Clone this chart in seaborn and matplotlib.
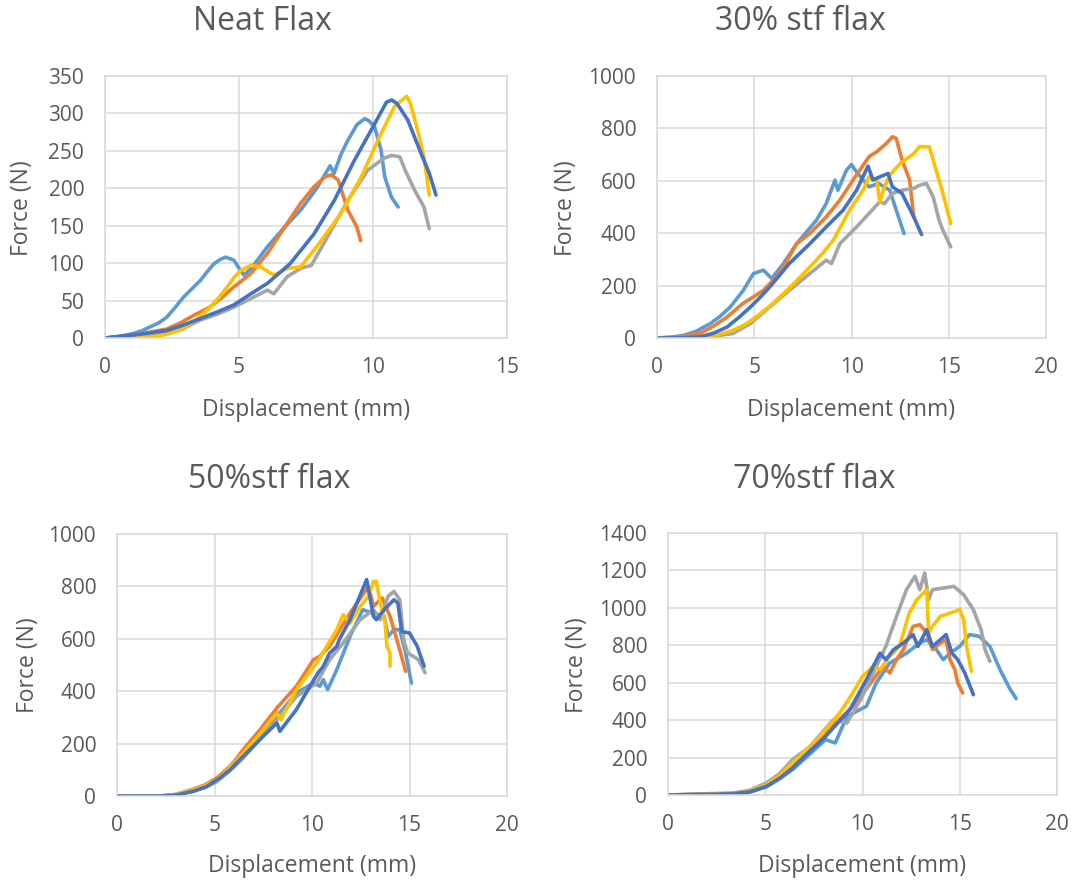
import matplotlib
matplotlib.use("Agg")
import matplotlib.pyplot as plt
import numpy as np
import pandas as pd
import seaborn as sns

# ---------------------------------------------------------------------------
# Force-displacement curves, five specimens per material
# ---------------------------------------------------------------------------
specimens = ["S1", "S2", "S3", "S4", "S5"]
series_colors = ["#5B9BD5", "#ED7D31", "#A5A5A5", "#FFC000", "#4472C4"]

panel_titles = ["Neat Flax", "30% stf flax", "50%stf flax", "70%stf flax"]
x_label = "Displacement (mm)"
y_label = "Force (N)"

# Neat flax
neat_s1_disp = [0, 0.5, 1.06, 1.4, 1.69, 2.0, 2.31, 2.6, 2.94, 3.25, 3.56, 3.8, 4.06, 4.3, 4.5, 4.81, 5.06, 5.19, 5.5, 6.06, 6.7, 7.3, 7.9, 8.4, 8.55, 8.8, 9.06, 9.4, 9.69, 9.85, 10.06, 10.3, 10.44, 10.69, 10.94]
neat_s1_force = [0, 2, 6, 10, 15, 20, 28, 40, 55, 66, 77, 88, 99, 105, 108, 104, 90, 84, 95, 122, 148, 171, 200, 230, 220, 245, 264, 285, 293, 290, 282, 251, 215, 188, 175]
neat_s2_disp = [0, 0.5, 1.06, 1.7, 2.3, 2.8, 3.3, 3.9, 4.4, 4.8, 5.44, 6.06, 6.7, 7.3, 7.8, 8.2, 8.44, 8.7, 9.06, 9.4, 9.54]
neat_s2_force = [0, 1, 4, 8, 12, 20, 30, 41, 55, 68, 86, 113, 148, 180, 202, 215, 218, 211, 171, 148, 130]
neat_s3_disp = [0, 1.0, 2.3, 3.0, 3.56, 4.2, 4.8, 5.4, 6.06, 6.3, 6.8, 7.3, 7.7, 8.3, 9.06, 9.8, 10.4, 10.7, 11.0, 11.2, 11.56, 11.9, 12.1]
neat_s3_force = [0, 2, 6, 14, 24, 32, 41, 52, 64, 59, 82, 93, 97, 135, 184, 224, 240, 244, 242, 224, 197, 175, 146]
neat_s4_disp = [0, 1.0, 1.7, 2.3, 2.9, 3.4, 3.8, 4.2, 4.56, 4.8, 5.06, 5.44, 5.8, 6.3, 6.8, 7.3, 7.9, 8.8, 9.56, 10.3, 10.8, 11.25, 11.4, 11.7, 11.9, 12.1]
neat_s4_force = [0, 0, 1, 5, 12, 24, 37, 52, 68, 80, 90, 97, 95, 84, 93, 95, 122, 166, 215, 273, 309, 323, 313, 273, 242, 191]
neat_s5_disp = [0, 0.5, 1.06, 1.7, 2.3, 2.9, 3.56, 4.2, 4.8, 5.44, 6.06, 6.9, 7.8, 8.56, 9.3, 10.06, 10.5, 10.7, 10.9, 11.3, 11.8, 12.1, 12.35]
neat_s5_force = [0, 2, 4, 7, 10, 17, 26, 35, 44, 59, 73, 99, 139, 184, 237, 286, 315, 318, 313, 291, 246, 220, 191]

# 30 % stf flax
f30_s1_disp = [0, 0.7, 1.37, 2.0, 2.74, 3.2, 3.76, 4.1, 4.44, 4.7, 4.96, 5.47, 5.9, 6.5, 7.18, 8.2, 8.7, 9.15, 9.3, 9.74, 10.0, 10.2, 10.6, 10.9, 11.4, 11.97, 12.3, 12.7]
f30_s1_force = [0, 3, 10, 25, 55, 80, 118, 150, 182, 215, 246, 259, 227, 284, 360, 450, 513, 603, 564, 641, 662, 640, 603, 577, 590, 564, 488, 399]
f30_s2_disp = [0, 1.2, 2.2, 2.9, 3.6, 4.0, 4.4, 4.96, 5.47, 6.3, 7.18, 7.86, 8.7, 9.4, 10.08, 10.9, 11.3, 11.8, 12.1, 12.3, 12.6, 12.99, 13.2]
f30_s2_force = [0, 4, 17, 45, 80, 105, 131, 157, 182, 246, 360, 399, 462, 526, 603, 692, 711, 743, 768, 762, 679, 603, 462]
f30_s3_disp = [0, 2.0, 3.0, 3.9, 4.8, 5.6, 6.8, 7.86, 8.7, 8.97, 9.4, 10.26, 10.9, 11.45, 11.7, 12.1, 12.6, 13.2, 13.5, 13.85, 14.2, 14.5, 14.7, 15.1]
f30_s3_force = [0, 3, 8, 17, 55, 106, 182, 246, 297, 284, 360, 424, 475, 520, 513, 552, 564, 571, 583, 590, 539, 450, 411, 348]
f30_s4_disp = [0, 2.2, 3.1, 3.9, 4.5, 5.1, 5.8, 6.5, 7.2, 7.86, 8.5, 9.06, 9.9, 10.6, 10.9, 11.3, 11.45, 11.7, 11.97, 12.5, 13.2, 13.5, 14.0, 14.3, 14.7, 15.1]
f30_s4_force = [0, 1, 12, 29, 50, 80, 122, 169, 220, 271, 322, 373, 488, 564, 615, 603, 520, 577, 622, 666, 704, 730, 730, 653, 552, 437]
f30_s5_disp = [0, 1.2, 2.2, 2.9, 3.6, 4.2, 4.8, 5.3, 5.8, 6.8, 7.86, 8.7, 9.57, 10.26, 10.85, 11.1, 11.45, 11.88, 12.1, 12.6, 13.2, 13.6]
f30_s5_force = [0, 1, 4, 18, 42, 78, 118, 155, 195, 284, 360, 424, 488, 564, 656, 603, 615, 628, 577, 552, 462, 395]

# 50 % stf flax
f50_s1_disp = [0, 2.2, 3.0, 3.9, 4.5, 5.1, 5.6, 6.0, 6.47, 7.3, 8.2, 9.2, 10.07, 10.4, 10.58, 10.8, 11.27, 11.95, 12.6, 13.15, 13.7, 13.9, 14.2, 14.5, 14.8, 15.1]
f50_s1_force = [0, 0, 4, 20, 34, 58, 88, 114, 151, 222, 304, 393, 431, 419, 444, 406, 482, 609, 711, 698, 686, 609, 635, 635, 546, 431]
f50_s2_disp = [0, 2.2, 3.0, 3.9, 4.5, 5.1, 5.6, 6.0, 6.47, 7.3, 8.2, 9.2, 10.07, 10.4, 10.9, 11.95, 12.9, 13.15, 13.6, 14.0, 14.5, 14.8]
f50_s2_force = [0, 0, 6, 26, 42, 68, 100, 130, 177, 250, 336, 419, 520, 533, 571, 698, 800, 724, 756, 686, 558, 476]
f50_s3_disp = [0, 2.2, 3.0, 3.9, 4.5, 5.1, 5.6, 6.0, 6.47, 7.3, 8.2, 9.2, 10.24, 10.9, 11.6, 12.47, 13.15, 13.5, 13.9, 14.2, 14.5, 14.7, 14.9, 15.2, 15.46, 15.8]
f50_s3_force = [0, 0, 4, 18, 32, 54, 84, 110, 145, 215, 291, 380, 431, 520, 584, 673, 711, 673, 762, 781, 749, 597, 546, 533, 520, 470]
f50_s4_disp = [0, 2.2, 3.0, 3.9, 4.5, 5.1, 5.6, 6.0, 6.47, 7.3, 8.2, 8.4, 9.2, 10.24, 11.27, 11.6, 11.95, 12.47, 12.9, 13.15, 13.3, 13.5, 13.75, 13.84, 14.0, 14.0]
f50_s4_force = [0, 0, 5, 24, 38, 62, 94, 124, 164, 235, 317, 291, 406, 508, 635, 692, 660, 724, 762, 819, 819, 737, 660, 571, 546, 495]
f50_s5_disp = [0, 2.2, 3.0, 3.9, 4.6, 5.27, 5.8, 6.1, 6.47, 7.5, 8.2, 8.35, 9.2, 9.9, 10.3, 10.58, 10.9, 11.27, 11.4, 11.95, 12.8, 13.15, 13.3, 13.7, 14.2, 14.4, 14.6, 15.0, 15.4, 15.75]
f50_s5_force = [0, 0, 3, 18, 36, 69, 100, 124, 151, 228, 279, 247, 330, 419, 469, 495, 545, 571, 597, 673, 826, 686, 673, 711, 749, 737, 628, 622, 571, 495]

# 70 % stf flax
f70_s1_disp = [0, 3.3, 4.2, 5.06, 5.75, 6.4, 7.2, 8.1, 8.6, 9.2, 9.86, 10.2, 10.7, 11.4, 12.26, 12.95, 13.3, 13.8, 14.15, 14.5, 15.0, 15.5, 16.0, 16.55, 17.07, 17.6, 17.9]
f70_s1_force = [0, 6, 16, 44, 88, 135, 210, 296, 278, 420, 456, 474, 598, 705, 758, 812, 830, 777, 723, 758, 794, 857, 848, 794, 670, 563, 515]
f70_s2_disp = [0, 3.3, 4.2, 5.06, 5.75, 6.4, 7.2, 8.1, 9.5, 10.55, 11.06, 11.4, 11.75, 12.1, 12.6, 12.95, 13.3, 13.6, 14.0, 14.3, 14.5, 14.75, 14.9, 15.15]
f70_s2_force = [0, 7, 18, 50, 95, 153, 235, 331, 474, 616, 687, 652, 723, 777, 901, 910, 866, 777, 812, 830, 723, 670, 598, 545]
f70_s3_disp = [0, 3.35, 4.2, 5.06, 5.75, 6.4, 7.0, 7.3, 8.5, 9.2, 9.9, 10.55, 11.2, 11.75, 12.26, 12.7, 12.95, 13.2, 13.4, 13.6, 14.15, 14.7, 15.2, 15.7, 16.1, 16.3, 16.55]
f70_s3_force = [0, 11, 25, 64, 115, 189, 235, 260, 402, 385, 509, 652, 794, 955, 1097, 1169, 1097, 1186, 1044, 1097, 1106, 1115, 1070, 990, 883, 777, 714]
f70_s4_disp = [0, 3.35, 4.2, 5.06, 5.75, 6.4, 7.1, 7.8, 8.83, 9.5, 10.0, 10.55, 10.9, 11.4, 11.9, 12.4, 12.8, 13.3, 13.4, 13.6, 14.0, 14.5, 15.0, 15.2, 15.35, 15.6]
f70_s4_force = [0, 7, 20, 55, 105, 171, 240, 313, 438, 545, 634, 687, 670, 741, 794, 972, 1044, 1097, 866, 901, 955, 972, 990, 937, 794, 661]
f70_s5_disp = [0, 3.3, 4.2, 5.06, 5.75, 6.4, 7.2, 8.1, 9.35, 10.2, 10.9, 11.2, 11.6, 12.1, 12.6, 12.85, 13.3, 13.6, 14.0, 14.3, 14.6, 14.9, 15.26, 15.7]
f70_s5_force = [0, 6, 16, 46, 90, 144, 225, 313, 456, 616, 758, 723, 777, 812, 857, 794, 883, 794, 830, 857, 758, 723, 652, 536]

panel_series = [
    [(neat_s1_disp, neat_s1_force), (neat_s2_disp, neat_s2_force), (neat_s3_disp, neat_s3_force),
     (neat_s4_disp, neat_s4_force), (neat_s5_disp, neat_s5_force)],
    [(f30_s1_disp, f30_s1_force), (f30_s2_disp, f30_s2_force), (f30_s3_disp, f30_s3_force),
     (f30_s4_disp, f30_s4_force), (f30_s5_disp, f30_s5_force)],
    [(f50_s1_disp, f50_s1_force), (f50_s2_disp, f50_s2_force), (f50_s3_disp, f50_s3_force),
     (f50_s4_disp, f50_s4_force), (f50_s5_disp, f50_s5_force)],
    [(f70_s1_disp, f70_s1_force), (f70_s2_disp, f70_s2_force), (f70_s3_disp, f70_s3_force),
     (f70_s4_disp, f70_s4_force), (f70_s5_disp, f70_s5_force)],
]

x_limits = [(0, 15), (0, 20), (0, 20), (0, 20)]
y_limits = [(0, 350), (0, 1000), (0, 1000), (0, 1400)]
y_steps = [50, 200, 200, 200]

# ---------------------------------------------------------------------------
# Layout (pixel geometry of the 1078 x 884 canvas)
# ---------------------------------------------------------------------------
W, H = 1078, 884
plot_boxes = [(105, 76, 507, 338), (657, 76, 1046, 338),
              (117, 534, 507, 796), (668, 533, 1057, 795)]
title_pos = [(262, 22), (800, 22), (269, 480), (814, 480)]
xlabel_pos = [(306, 410), (851, 410), (312, 866), (862, 866)]
ylabel_pos = [(22, 208), (566, 208), (28, 665), (577, 665)]

sns.set_theme(style="white")
plt.rcParams["font.family"] = ["Open Sans", "DejaVu Sans"]

TEXT = "#595959"
GRID = "#D9D9D9"

fig = plt.figure(figsize=(W / 100, H / 100), dpi=100)
fig.patch.set_facecolor("white")

for i in range(4):
    left, top, right, bottom = plot_boxes[i]
    ax = fig.add_axes([left / W, 1 - bottom / H, (right - left) / W, (bottom - top) / H])

    frames = []
    for name, (xs, ys) in zip(specimens, panel_series[i]):
        frames.append(pd.DataFrame({"disp": xs, "force": ys, "specimen": name}))
    df = pd.concat(frames, ignore_index=True)

    sns.lineplot(data=df, x="disp", y="force", hue="specimen", hue_order=specimens,
                 palette=series_colors, sort=False, estimator=None, legend=False,
                 linewidth=2.6, ax=ax)
    for line in ax.get_lines():
        line.set_solid_joinstyle("round")
        line.set_solid_capstyle("round")

    ax.set_xlim(*x_limits[i])
    ax.set_ylim(*y_limits[i])
    ax.set_xticks(np.arange(x_limits[i][0], x_limits[i][1] + 0.1, 5))
    ax.set_yticks(np.arange(y_limits[i][0], y_limits[i][1] + 1, y_steps[i]))
    ax.grid(True, color=GRID, linewidth=1.1)
    ax.set_axisbelow(True)
    for sp in ax.spines.values():
        sp.set_visible(True)
        sp.set_color(GRID)
        sp.set_linewidth(1.1)
    ax.tick_params(axis="both", length=0, labelsize=15, labelcolor=TEXT)
    ax.tick_params(axis="x", pad=14)
    ax.tick_params(axis="y", pad=15)
    ax.set_xlabel("")
    ax.set_ylabel("")

    tx, ty = title_pos[i]
    fig.text(tx / W, 1 - ty / H, panel_titles[i], ha="center", va="center",
             fontsize=23, color=TEXT)
    lx, ly = xlabel_pos[i]
    fig.text(lx / W, 1 - ly / H, x_label, ha="center", va="center",
             fontsize=16.5, color=TEXT)
    yx, yy = ylabel_pos[i]
    fig.text(yx / W, 1 - yy / H, y_label, ha="center", va="center",
             rotation=90, fontsize=16.5, color=TEXT)

fig.savefig("out.png", dpi=100, facecolor="white")
